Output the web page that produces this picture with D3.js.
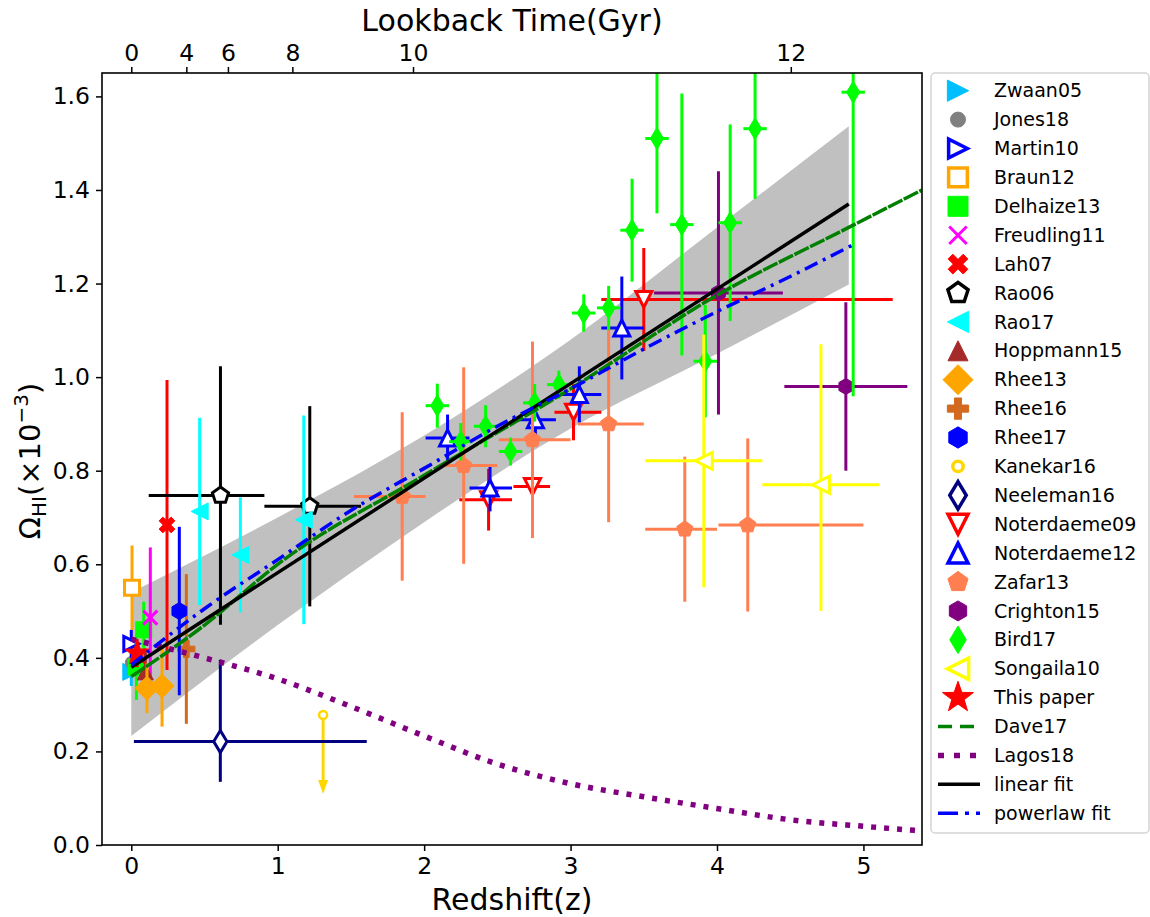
<!DOCTYPE html>
<html lang="en">
<head>
	<meta charset="UTF-8">
	<title>HI density vs redshift</title>
	<script src="https://d3js.org/d3.v7.min.js"></script>
	<style>
		html,body{margin:0;padding:0;background:#fff;}
		svg{display:block;font-family:"DejaVu Sans",sans-serif;}
		.tick text{font-family:"DejaVu Sans",sans-serif;}
	</style>
</head>
<body>
	<svg id="svg" width="1150" height="917"></svg>
	<script>
	// rows: [z, omega, dz-, dz+, domega-, domega+]
	const zwaan05 = [[0.0, 0.37, 0, 0, 0.03, 0.03]];
	const jones18 = [[0.0, 0.39, 0, 0, 0.02, 0.02]];
	const martin10 = [[0.0, 0.43, 0, 0, 0.03, 0.03]];
	const braun12 = [[0.005, 0.55, 0, 0, 0.09, 0.09]];
	const delhaize13 = [[0.035, 0.38, 0, 0, 0.07, 0.07], [0.085, 0.46, 0, 0, 0.06, 0.06]];
	const freudling11 = [[0.13, 0.486, 0, 0, 0.15, 0.15]];
	const lah07 = [[0.244, 0.684, 0, 0, 0.31, 0.31]];
	const rao06 = [[0.609, 0.747, 0.49, 0.30, 0.276, 0.276], [1.219, 0.724, 0.31, 0.35, 0.214, 0.214]];
	const rao17 = [[0.467, 0.713, 0, 0, 0.2, 0.2], [0.745, 0.62, 0, 0, 0.123, 0.123], [1.178, 0.695, 0, 0, 0.223, 0.223]];
	const hoppmann15 = [[0.096, 0.37, 0, 0, 0.05, 0.05]];
	const rhee13 = [[0.107, 0.335, 0, 0, 0.053, 0.053], [0.21, 0.34, 0, 0, 0.087, 0.087]];
	const rhee16 = [[0.376, 0.419, 0, 0, 0.16, 0.16]];
	const rhee17 = [[0.328, 0.50, 0, 0, 0.18, 0.18]];
	const kanekar16 = [[1.31, 0.278, 0.124]]; // [z, upper limit, arrow end]
	const neeleman16 = [[0.608, 0.221, 0.59, 1.0, 0.086, 0.175]];
	const noterdaeme09 = [[2.44, 0.738, 0.2, 0.16, 0.066, 0.066], [2.74, 0.766, 0.13, 0.12, 0.087, 0.087],
		[3.02, 0.925, 0.13, 0.19, 0.06, 0.06], [3.50, 1.166, 0.29, 1.70, 0.11, 0.11]];
	const noterdaeme12 = [[2.16, 0.87, 0.15, 0.15, 0.05, 0.05], [2.45, 0.763, 0.14, 0.15, 0.05, 0.05],
		[2.76, 0.909, 0.16, 0.14, 0.05, 0.05], [3.06, 0.963, 0.15, 0.15, 0.06, 0.06], [3.35, 1.105, 0.14, 0.15, 0.11, 0.11]];
	const zafar13 = [[1.85, 0.745, 0.33, 0.16, 0.18, 0.18], [2.27, 0.811, 0.16, 0.23, 0.21, 0.21],
		[2.74, 0.866, 0.23, 0.26, 0.21, 0.21], [3.26, 0.90, 0.21, 0.24, 0.21, 0.21],
		[3.78, 0.675, 0.27, 0.22, 0.155, 0.155], [4.21, 0.684, 0.20, 0.79, 0.185, 0.185]];
	const crighton15 = [[4.01, 1.18, 0.44, 0.44, 0.26, 0.26], [4.88, 0.98, 0.42, 0.42, 0.18, 0.18]];
	const bird17 = [[2.09, 0.939, 0.08, 0.08, 0.047, 0.047], [2.25, 0.862, 0.08, 0.08, 0.04, 0.04],
		[2.42, 0.895, 0.08, 0.08, 0.045, 0.045], [2.59, 0.841, 0.08, 0.08, 0.03, 0.03],
		[2.755, 0.945, 0.08, 0.08, 0.04, 0.04], [2.92, 0.984, 0.08, 0.08, 0.03, 0.03],
		[3.09, 1.137, 0.08, 0.08, 0.04, 0.04], [3.26, 1.148, 0.08, 0.08, 0.047, 0.047],
		[3.42, 1.314, 0.08, 0.08, 0.11, 0.11], [3.59, 1.51, 0.08, 0.08, 0.16, 0.16],
		[3.76, 1.326, 0.08, 0.08, 0.28, 0.28], [3.92, 1.034, 0.08, 0.08, 0.12, 0.12],
		[4.09, 1.33, 0.08, 0.08, 0.21, 0.21], [4.26, 1.531, 0.08, 0.08, 0.15, 0.15],
		[4.93, 1.609, 0.08, 0.08, 0.65, 0.65]];
	const songaila10 = [[3.91, 0.821, 0.40, 0.40, 0.27, 0.27], [4.71, 0.77, 0.40, 0.40, 0.27, 0.30]];
	const thisPaper = [[0.04, 0.41, 0, 0, 0.03, 0.03]];

	// model curves and fits
	const bandZ = [0, 1, 2, 3, 4, 4.9];
	const bandLow = [0.233, 0.47, 0.69, 0.89, 1.05, 1.198];
	const bandHigh = [0.54, 0.70, 0.875, 1.08, 1.32, 1.536];
	const daveZ = [0, 0.5, 1, 2, 3, 4, 4.9, 5.4];
	const daveOm = [0.36, 0.47, 0.60, 0.79, 0.975, 1.175, 1.32, 1.40];
	const lagosZ = [0, 0.5, 1, 1.5, 2, 2.5, 3, 3.5, 4, 4.5, 5, 5.4];
	const lagosOm = [0.44, 0.40, 0.355, 0.296, 0.233, 0.173, 0.131, 0.103, 0.078, 0.054, 0.04, 0.03];
	const linZ = [0, 4.9];
	const linOm = [0.38, 1.37];
	const powZ = [0, 0.5, 1, 1.5, 2, 2.5, 3, 3.5, 4, 4.5, 4.93];
	const powOm = [0.385, 0.505, 0.61, 0.715, 0.805, 0.895, 0.975, 1.06, 1.14, 1.215, 1.283];

	// axis ticks
	const zTicks = [0, 1, 2, 3, 4, 5];
	const omTicks = [0, 0.2, 0.4, 0.6, 0.8, 1.0, 1.2, 1.4, 1.6];
	const lookbackLabels = ["0", "4", "6", "8", "10", "12"];
	const lookbackZ = [0, 0.376, 0.66, 1.1, 1.924, 4.504];

	const svg = d3.select("svg");
	const L = 102, T = 73, R = 922, B = 845;
	const x = d3.scaleLinear().domain([-0.2, 5.4]).range([L, R]);
	const y = d3.scaleLinear().domain([0, 1.65]).range([B, T]);

	function poly(pts){
		return "M" + pts.map(p => p[0].toFixed(2) + "," + p[1].toFixed(2)).join("L") + "Z";
	}
	function ngon(n, r){
		return d3.range(n).map(i => {
			const a = i * 2 * Math.PI / n;
			return [r * Math.sin(a), -r * Math.cos(a)];
		});
	}
	function markerPath(kind, s){
		const r = s / 2;
		switch(kind){
			case "circle": return d3.symbol(d3.symbolCircle, Math.PI * r * r)();
			case "square": return poly([[-r,-r],[r,-r],[r,r],[-r,r]]);
			case "triUp": return poly([[0,-r],[r,r],[-r,r]]);
			case "triDown": return poly([[0,r],[r,-r],[-r,-r]]);
			case "triLeft": return poly([[-r,0],[r,-r],[r,r]]);
			case "triRight": return poly([[r,0],[-r,-r],[-r,r]]);
			case "pentagon": return poly(ngon(5, r));
			case "hexagon": return poly(ngon(6, r));
			case "diamond": return poly([[0,-r],[r,0],[0,r],[-r,0]]);
			case "thinDiamond": return poly([[0,-r],[r*0.6,0],[0,r],[-r*0.6,0]]);
			case "star": {
				const pts = d3.range(10).map(i => {
					const a = i * Math.PI / 5, rr = i % 2 ? r * 0.4 : r;
					return [rr * Math.sin(a), -rr * Math.cos(a)];
				});
				return poly(pts);
			}
			case "plus": {
				const w = r / 3;
				return poly([[-w,-r],[w,-r],[w,-w],[r,-w],[r,w],[w,w],[w,r],[-w,r],[-w,w],[-r,w],[-r,-w],[-w,-w]]);
			}
			case "X": {
				const w = r / 3.2, c = Math.SQRT1_2;
				const pts = [[-w,-r],[w,-r],[w,-w],[r,-w],[r,w],[w,w],[w,r],[-w,r],[-w,w],[-r,w],[-r,-w],[-w,-w]]
					.map(p => [(p[0] - p[1]) * c, (p[0] + p[1]) * c]);
				return poly(pts);
			}
			case "x": return `M${-r},${-r}L${r},${r}M${-r},${r}L${r},${-r}`;
		}
	}

	const series = [
		{name:"Zwaan05", data:zwaan05, color:"#00BFFF", shape:"triRight", size:17},
		{name:"Jones18", data:jones18, color:"#808080", shape:"circle", size:12},
		{name:"Martin10", data:martin10, color:"#0000FF", shape:"triRight", size:15, open:true},
		{name:"Braun12", data:braun12, color:"#FFA500", shape:"square", size:15, open:true},
		{name:"Delhaize13", data:delhaize13, color:"#00FF00", shape:"square", size:16},
		{name:"Freudling11", data:freudling11, color:"#FF00FF", shape:"x", size:14, line:true},
		{name:"Lah07", data:lah07, color:"#FF0000", shape:"X", size:17},
		{name:"Rao06", data:rao06, color:"#000000", shape:"pentagon", size:17, open:true},
		{name:"Rao17", data:rao17, color:"#00FFFF", shape:"triLeft", size:17},
		{name:"Hoppmann15", data:hoppmann15, color:"#A52A2A", shape:"triUp", size:16},
		{name:"Rhee13", data:rhee13, color:"#FFA500", shape:"diamond", size:24},
		{name:"Rhee16", data:rhee16, color:"#D2691E", shape:"plus", size:17},
		{name:"Rhee17", data:rhee17, color:"#0000FF", shape:"hexagon", size:17},
		{name:"Kanekar16", data:kanekar16, color:"#FFD700", shape:"circle", size:8, open:true, limit:true},
		{name:"Neeleman16", data:neeleman16, color:"#000080", shape:"thinDiamond", size:22, open:true},
		{name:"Noterdaeme09", data:noterdaeme09, color:"#FF0000", shape:"triDown", size:16, open:true},
		{name:"Noterdaeme12", data:noterdaeme12, color:"#0000FF", shape:"triUp", size:16, open:true},
		{name:"Zafar13", data:zafar13, color:"#FF7F50", shape:"pentagon", size:17},
		{name:"Crighton15", data:crighton15, color:"#800080", shape:"hexagon", size:16},
		{name:"Bird17", data:bird17, color:"#00FF00", shape:"thinDiamond", size:22},
		{name:"Songaila10", data:songaila10, color:"#FFFF00", shape:"triLeft", size:17, open:true},
		{name:"This paper", data:thisPaper, color:"#FF0000", shape:"star", size:26}
	];

	const curves = [
		{name:"Dave17", zs:daveZ, om:daveOm, color:"#008000", width:3.5, dash:"16,1.5", legendDash:"14,8"},
		{name:"Lagos18", zs:lagosZ, om:lagosOm, color:"#800080", width:5.5, dash:"5,8", legendDash:"6,10"},
		{name:"linear fit", zs:linZ, om:linOm, color:"#000000", width:3.5, dash:null, legendDash:null},
		{name:"powerlaw fit", zs:powZ, om:powOm, color:"#0000FF", width:3.5, dash:"14,6,3,6", legendDash:"20,7,4,7"}
	];

	svg.append("defs").append("clipPath").attr("id", "clip")
		.append("rect").attr("x", L).attr("y", T).attr("width", R - L).attr("height", B - T);

	const plot = svg.append("g").attr("clip-path", "url(#clip)");

	// confidence band of the linear fit
	const band = d3.area()
		.x((d, i) => x(bandZ[i]))
		.y0((d, i) => y(bandLow[i]))
		.y1((d, i) => y(bandHigh[i]))
		.curve(d3.curveMonotoneX);
	plot.append("path").datum(bandZ).attr("d", band).attr("fill", "#C0C0C0");

	// error bars and markers
	series.forEach(s => {
		const g = plot.append("g");
		s.data.forEach(d => {
			const cx = x(d[0]), cy = y(d[1]);
			if(s.limit){
				g.append("line").attr("x1", cx).attr("x2", cx).attr("y1", cy).attr("y2", y(d[2]))
					.attr("stroke", s.color).attr("stroke-width", 3);
				g.append("path").attr("transform", `translate(${cx},${y(d[2])})`)
					.attr("d", poly([[-5,-7],[5,-7],[0,7]])).attr("fill", s.color);
			} else {
				if(d[2] > 0 || d[3] > 0){
					g.append("line").attr("x1", x(d[0] - d[2])).attr("x2", x(d[0] + d[3]))
						.attr("y1", cy).attr("y2", cy).attr("stroke", s.color).attr("stroke-width", 3);
				}
				g.append("line").attr("x1", cx).attr("x2", cx)
					.attr("y1", y(d[1] - d[4])).attr("y2", y(d[1] + d[5]))
					.attr("stroke", s.color).attr("stroke-width", 3);
			}
			const m = g.append("path").attr("transform", `translate(${cx},${cy})`)
				.attr("d", markerPath(s.shape, s.size));
			if(s.line) m.attr("fill", "none").attr("stroke", s.color).attr("stroke-width", 3);
			else if(s.open) m.attr("fill", "#fff").attr("stroke", s.color).attr("stroke-width", s.limit ? 2.5 : 3);
			else m.attr("fill", s.color).attr("stroke", s.color).attr("stroke-width", 1);
		});
	});

	// model and fit curves
	curves.forEach(c => {
		const line = d3.line().x((d, i) => x(c.zs[i])).y((d, i) => y(c.om[i])).curve(d3.curveMonotoneX);
		const p = plot.append("path").datum(c.zs).attr("d", line)
			.attr("fill", "none").attr("stroke", c.color).attr("stroke-width", c.width);
		if(c.dash) p.attr("stroke-dasharray", c.dash);
	});

	// axes
	const axB = svg.append("g").attr("transform", `translate(0,${B})`)
		.call(d3.axisBottom(x).tickValues(zTicks).tickFormat(d3.format("d")).tickSize(6).tickPadding(6));
	const axL = svg.append("g").attr("transform", `translate(${L},0)`)
		.call(d3.axisLeft(y).tickValues(omTicks).tickFormat(d3.format(".1f")).tickSize(6).tickPadding(6));
	const xTop = d3.scaleLinear().domain(x.domain()).range(x.range());
	const axT = svg.append("g").attr("transform", `translate(0,${T})`)
		.call(d3.axisTop(xTop).tickValues(lookbackZ).tickFormat((d, i) => lookbackLabels[i]).tickSize(6).tickPadding(6));
	[axB, axL, axT].forEach(a => {
		a.select(".domain").remove();
		a.selectAll(".tick line").attr("stroke", "#000").attr("stroke-width", 1.5);
		a.selectAll(".tick text").attr("font-size", 23.5).attr("fill", "#000");
	});

	svg.append("rect").attr("x", L).attr("y", T).attr("width", R - L).attr("height", B - T)
		.attr("fill", "none").attr("stroke", "#000").attr("stroke-width", 1.6);

	// axis titles
	svg.append("text").attr("x", (L + R) / 2).attr("y", 910).attr("text-anchor", "middle")
		.attr("font-size", 30).text("Redshift(z)");
	svg.append("text").attr("x", (L + R) / 2).attr("y", 31).attr("text-anchor", "middle")
		.attr("font-size", 30).text("Lookback Time(Gyr)");
	const yl = svg.append("text").attr("transform", "translate(40,461) rotate(-90)")
		.attr("text-anchor", "middle").attr("font-size", 29);
	yl.append("tspan").text("Ω");
	yl.append("tspan").attr("font-size", 20).attr("dy", 6).text("HI");
	yl.append("tspan").attr("dy", -6).text("(×10");
	yl.append("tspan").attr("font-size", 20).attr("dy", -12).text("−3");
	yl.append("tspan").attr("dy", 12).text(")");

	// legend
	const lg = svg.append("g");
	lg.append("rect").attr("x", 931).attr("y", 73).attr("width", 218).attr("height", 760).attr("rx", 4)
		.attr("fill", "#fff").attr("stroke", "#d4d4d4").attr("stroke-width", 1.5);
	const entries = series.map(s => ({type:"marker", s:s})).concat(curves.map(c => ({type:"curve", c:c})));
	entries.forEach((e, i) => {
		const ly = 90.7 + i * 28.9;
		if(e.type === "marker"){
			const s = e.s;
			const m = lg.append("path").attr("transform", `translate(958,${ly})`)
				.attr("d", markerPath(s.shape, s.size * (s.limit ? 1.3 : 1.25)));
			if(s.line) m.attr("fill", "none").attr("stroke", s.color).attr("stroke-width", 3);
			else if(s.open) m.attr("fill", "#fff").attr("stroke", s.color).attr("stroke-width", 3.5);
			else m.attr("fill", s.color).attr("stroke", s.color).attr("stroke-width", 1);
		} else {
			const c = e.c;
			const l = lg.append("line").attr("x1", 938).attr("x2", 980).attr("y1", ly).attr("y2", ly)
				.attr("stroke", c.color).attr("stroke-width", c.width);
			if(c.legendDash) l.attr("stroke-dasharray", c.legendDash);
		}
		lg.append("text").attr("x", 994).attr("y", ly).attr("dy", "0.35em")
			.attr("font-size", 19).text(e.type === "marker" ? e.s.name : e.c.name);
	});
	</script>
</body>
</html>
